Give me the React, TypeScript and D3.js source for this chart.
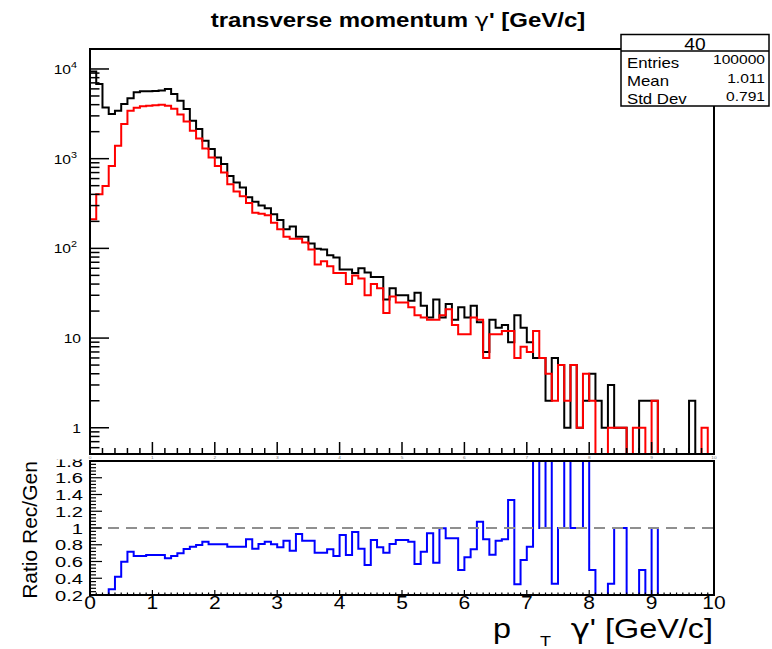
import React from "react";
import * as d3 from "d3";

// 100 bins of 0.1 GeV/c between 0 and 10
const xMin = 0;
const xMax = 10;
const nBins = 100;

// generated (black)
const genCounts = [
  9400, 6800, 3730, 3140, 3420, 4060, 4710, 5500, 5640, 5640,
  5700, 5750, 5980, 5260, 4420, 3570, 2640, 2140, 1580, 1280,
  1030, 870, 643, 542, 477, 371, 330, 300, 280, 240,
  207, 163, 175, 135, 135, 113, 99, 97, 84, 79,
  58, 58, 53, 60, 54, 48, 48, 27, 36, 30,
  30, 26, 32, 23, 17, 27, 17, 24, 16, 22,
  17, 23, 15, 7, 16, 13, 14, 9, 18, 13,
  9, 6, 6, 2, 6, 5, 1, 5, 1, 2,
  4, 2, 1, 3, 1, 1, 0, 0, 2, 2,
  2, 0, 0, 0, 0, 0, 2, 0, 0, 0,
];

// reconstructed (red)
const recCounts = [
  211, 400, 497, 830, 1390, 2430, 3420, 3700, 3850, 3900,
  3950, 4000, 3900, 3600, 3100, 2600, 2050, 1680, 1300, 1030,
  830, 700, 520, 430, 380, 320, 250, 243, 234, 193,
  163, 135, 128, 128, 116, 97, 66, 72, 63, 53,
  53, 40, 50, 46, 30, 40, 36, 19, 29, 25,
  25, 22, 18, 17, 16, 16, 18, 21, 14, 11,
  11, 17, 16, 6, 11, 11, 12, 12, 6, 8,
  7, 12, 6, 4, 2, 5, 2, 5, 1, 4,
  2, 0, 0, 1, 1, 1, 0, 1, 1, 0,
  2, 0, 0, 0, 0, 0, 0, 0, 1, 0,
];

// ratio Rec/Gen (blue)
const ratioValues = [
  0.02, 0.06, 0.13, 0.268, 0.419, 0.598, 0.717, 0.666, 0.666, 0.678,
  0.678, 0.678, 0.638, 0.666, 0.698, 0.749, 0.777, 0.797, 0.837, 0.805,
  0.805, 0.805, 0.777, 0.777, 0.777, 0.865, 0.753, 0.809, 0.837, 0.805,
  0.769, 0.849, 0.729, 0.928, 0.849, 0.849, 0.705, 0.705, 0.745, 0.666,
  0.916, 0.678, 0.952, 0.753, 0.558, 0.857, 0.769, 0.705, 0.809, 0.857,
  0.857, 0.837, 0.57, 0.717, 0.936, 0.586, 0.996, 0.877, 0.877, 0.498,
  0.65, 0.745, 1.076, 0.865, 0.682, 0.849, 0.865, 1.335, 0.328, 0.618,
  0.777, 2, 1, 2, 0.333, 1, 2, 1, 1, 2,
  0.5, 0, 0, 0.333, 1, 1, 0, 0, 0.5, 0,
  1, 0, 0, 0, 0, 0, 0, 0, 0, 0,
];

const logTickLabels = [
  { v: 1, base: "1", exp: "" },
  { v: 10, base: "10", exp: "" },
  { v: 100, base: "10", exp: "2" },
  { v: 1000, base: "10", exp: "3" },
  { v: 10000, base: "10", exp: "4" },
];
const ratioTickLabels = [0.2, 0.4, 0.6, 0.8, 1, 1.2, 1.4, 1.6, 1.8];
const xTickLabels = [0, 1, 2, 3, 4, 5, 6, 7, 8, 9, 10];
const statsTitle = "40";
const statsRows = [
  ["Entries", "100000"],
  ["Mean", "1.011"],
  ["Std Dev", "0.791"],
];
const titleStart = "transverse momentum ";
const gammaChar = "γ";
const titleEnd = "' [GeV/c]";

const FONT = "'Liberation Sans', Arial, Helvetica, sans-serif";
const GREEK = "'DejaVu Sans', sans-serif";
const SX = 1.2; // ROOT text comes out a bit wide

const upper = { l: 90, r: 714, t: 49, b: 454 };
const lower = { l: 90, r: 714, t: 461, b: 595 };

const x = d3.scaleLinear().domain([xMin, xMax]).range([upper.l, upper.r]);
const yLog = d3.scaleLog().domain([0.51, 16700]).range([upper.b, upper.t]);
const yRatio = d3.scaleLinear().domain([0.2, 1.8]).range([lower.b, lower.t]);
const binW = (xMax - xMin) / nBins;

const logY = (v: number) =>
  v > 0 ? Math.max(upper.t, Math.min(upper.b, yLog(v))) : upper.b;
const ratY = (v: number) =>
  Math.max(lower.t, Math.min(lower.b, yRatio(v)));

function stepPath(vals: number[], toY: (v: number) => number, base: number) {
  const pts: [number, number][] = [[x(xMin), base]];
  vals.forEach((v, i) => {
    const yy = toY(v);
    pts.push([x(xMin + i * binW), yy], [x(xMin + (i + 1) * binW), yy]);
  });
  pts.push([x(xMax), base]);
  return d3.line()(pts) || "";
}

const Txt: React.FC<{
  x: number;
  y: number;
  size: number;
  anchor?: string;
  sx?: number;
  weight?: string;
  fill?: string;
  children: React.ReactNode;
}> = ({ x, y, size, anchor = "start", sx = SX, weight = "normal", fill = "#000", children }) => (
  <text
    transform={`translate(${x},${y}) scale(${sx},1)`}
    fontSize={size}
    textAnchor={anchor}
    fontWeight={weight}
    fill={fill}
    fontFamily={FONT}>
    {children}
  </text>
);

export default function App() {
  // log minor ticks
  const logTicks: { v: number; major: boolean }[] = [];
  for (let d = -1; d <= 4; d++)
    for (let m = 1; m <= 9; m++) {
      const v = m * Math.pow(10, d);
      if (v >= 0.51 && v <= 16700) logTicks.push({ v, major: m === 1 });
    }
  const topXTicks = d3.range(0, 51).map((k) => ({ v: k * 0.2, major: k % 5 === 0 }));
  const lowXTicks = d3.range(0, 101).map((k) => ({ v: k * 0.1, major: k % 10 === 0 }));
  const lowYTicks = d3.range(0, 41).map((k) => ({ v: 0.2 + k * 0.04, major: k % 5 === 0 }));

  return (
    <svg
      width={772}
      height={649}
      style={{ position: "absolute", left: 0, top: 0, background: "#fff" }}>
      <rect x={0} y={0} width={772} height={649} fill="#fff" />

      {/* lower pad: ratio */}
      <path
        d={stepPath(ratioValues, ratY, lower.b)}
        fill="none"
        stroke="#0000ff"
        strokeWidth={2}
      />
      <line
        x1={lower.l}
        x2={lower.r}
        y1={yRatio(1)}
        y2={yRatio(1)}
        stroke="#8f8f8f"
        strokeWidth={2}
        strokeDasharray="11 7"
      />
      <rect
        x={lower.l}
        y={lower.t}
        width={lower.r - lower.l}
        height={lower.b - lower.t}
        fill="none"
        stroke="#000"
        strokeWidth={2}
      />
      {lowYTicks.map((t, i) => (
        <line
          key={i}
          x1={lower.l}
          x2={lower.l + (t.major ? 12 : 6)}
          y1={yRatio(t.v)}
          y2={yRatio(t.v)}
          stroke="#000"
          strokeWidth={1.2}
        />
      ))}
      {lowXTicks.map((t, i) => (
        <line
          key={i}
          x1={x(t.v)}
          x2={x(t.v)}
          y1={lower.b}
          y2={lower.b - (t.major ? 5 : 2.5)}
          stroke="#000"
          strokeWidth={1.2}
        />
      ))}
      {ratioTickLabels.map((v) => (
        <Txt key={v} x={83} y={yRatio(v) + 5.5} size={15.5} anchor="end" sx={1.3}>
          {String(v)}
        </Txt>
      ))}
      {xTickLabels.map((v) => (
        <Txt key={v} x={x(v)} y={609} size={17.5} anchor="middle" sx={1.2}>
          {String(v)}
        </Txt>
      ))}
      <text
        transform="translate(37,530) rotate(-90)"
        fontSize={21}
        textAnchor="middle"
        fontFamily={FONT}>
        Ratio Rec/Gen
      </text>
      <Txt x={493} y={638} size={27}>
        p
      </Txt>
      <Txt x={540} y={646} size={15}>
        T
      </Txt>
      <Txt x={713} y={638} size={27} anchor="end">
        <tspan fontFamily={GREEK}>{gammaChar}</tspan>
        {titleEnd}
      </Txt>

      {/* upper pad covers the lower one */}
      <rect x={0} y={0} width={772} height={459.5} fill="#fff" />

      <path
        d={stepPath(genCounts, logY, upper.b)}
        fill="none"
        stroke="#000"
        strokeWidth={2}
      />
      <path
        d={stepPath(recCounts, logY, upper.b)}
        fill="none"
        stroke="#ff0000"
        strokeWidth={2}
      />
      <rect
        x={upper.l}
        y={upper.t}
        width={upper.r - upper.l}
        height={upper.b - upper.t}
        fill="none"
        stroke="#000"
        strokeWidth={2}
      />
      {logTicks.map((t, i) => (
        <line
          key={i}
          x1={upper.l}
          x2={upper.l + (t.major ? 19 : 9.5)}
          y1={yLog(t.v)}
          y2={yLog(t.v)}
          stroke="#000"
          strokeWidth={1.5}
        />
      ))}
      {topXTicks.map((t, i) => (
        <line
          key={i}
          x1={x(t.v)}
          x2={x(t.v)}
          y1={upper.b}
          y2={upper.b - (t.major ? 12 : 6)}
          stroke="#000"
          strokeWidth={1.5}
        />
      ))}
      {xTickLabels.map((v) => (
        <Txt key={v} x={x(v)} y={459} size={4} anchor="middle" fill="#777">
          {String(v)}
        </Txt>
      ))}
      {logTickLabels.map((l) => (
        <Txt
          key={l.v}
          x={l.exp ? 77 : 81}
          y={yLog(l.v) + 5}
          size={13}
          anchor="end">
          {l.base}
          {l.exp && (
            <tspan dy={-6} fontSize={9}>
              {l.exp}
            </tspan>
          )}
        </Txt>
      ))}

      <Txt x={398} y={27} size={20} anchor="middle" weight="bold">
        {titleStart}
        <tspan fontFamily={GREEK} fontWeight="normal">
          {gammaChar}
        </tspan>
        {titleEnd}
      </Txt>

      {/* stats box */}
      <rect x={621} y={34.5} width={148} height={71.5} fill="#fff" stroke="#000" strokeWidth={1.5} />
      <line x1={621} x2={769} y1={51} y2={51} stroke="#000" strokeWidth={1.5} />
      <Txt x={695} y={50} size={16} anchor="middle">
        {statsTitle}
      </Txt>
      {statsRows.map(([k, v], i) => (
        <g key={k}>
          <Txt x={627} y={68 + i * 18} size={14}>
            {k}
          </Txt>
          <Txt x={765} y={64 + i * 18.5} size={13} anchor="end">
            {v}
          </Txt>
        </g>
      ))}
    </svg>
  );
}
